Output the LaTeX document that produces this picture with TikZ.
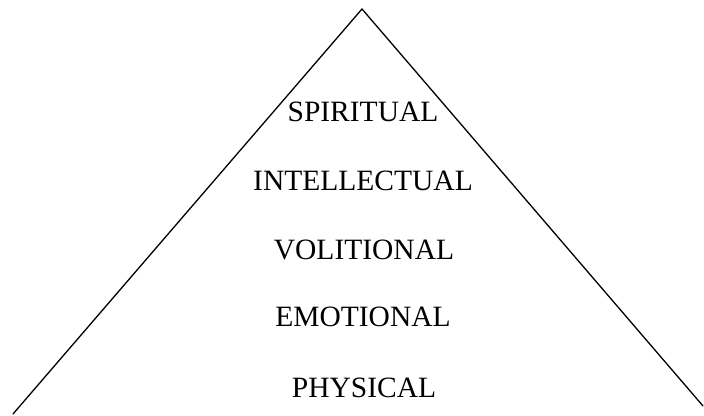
\documentclass[tikz,border=0pt]{standalone}
\usepackage{fontspec}
\setmainfont{Liberation Serif}
\usepackage{tikz}
\usetikzlibrary{positioning}

\begin{document}
\begin{tikzpicture}[
    x=1pt, y=1pt,
    every node/.style={font=\fontsize{29.5}{34}\selectfont},
    level/.style={anchor=base, inner sep=0pt},
    side/.style={line width=1.3pt, line cap=round}
]
\useasboundingbox (0,0) rectangle (704,415);

% ── Pyramid outline ───────────────────────────────────────────────────────
\coordinate (apex) at (362, 406);
\coordinate (left) at (13, 1);
\coordinate (right) at (703, 9);
\draw[side] (left) -- (apex) -- (right);

% ── Levels ────────────────────────────────────────────────────────────────
\node[level] (spiritual)    at (363, 293) {SPIRITUAL};
\node[level] (intellectual) at (363, 224) {INTELLECTUAL};
\node[level] (volitional)   at (364, 155) {VOLITIONAL};
\node[level] (emotional)    at (363, 88)  {EMOTIONAL};
\node[level] (physical)     at (364, 17)  {PHYSICAL};

\end{tikzpicture}
\end{document}
